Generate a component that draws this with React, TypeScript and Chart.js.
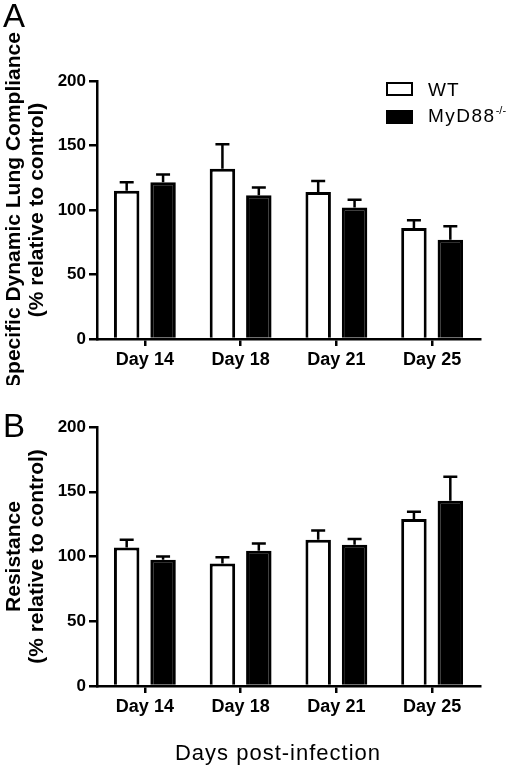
import { useEffect, useRef } from 'react';
import { Chart, registerables } from 'chart.js';
Chart.register(...registerables);

const days = ['Day 14', 'Day 18', 'Day 21', 'Day 25'];

// panel A: specific dynamic lung compliance, mean and SEM
const complianceWT = [115, 132, 114, 86];
const complianceWTsem = [6.5, 19, 8.5, 6];
const complianceKO = [121.5, 111.5, 102, 77];
const complianceKOsem = [6, 6, 6, 10.5];

// panel B: resistance, mean and SEM
const resistanceWT = [107, 94.5, 113, 129];
const resistanceWTsem = [6, 5, 7, 5.5];
const resistanceKO = [97.5, 104.5, 109, 143];
const resistanceKOsem = [2.5, 5.5, 4.5, 18.5];

const yTicks = [0, 50, 100, 150, 200];

const FONT = '"Liberation Sans", Arial, Helvetica, sans-serif';

function makeErrorBars(sem: number[][]) {
  return {
    id: 'errorBars',
    afterDatasetsDraw(chart: any) {
      const { ctx } = chart;
      const y = chart.scales.y;
      ctx.save();
      ctx.strokeStyle = '#000';
      ctx.lineWidth = 2.5;
      chart.data.datasets.forEach((ds: any, i: number) => {
        chart.getDatasetMeta(i).data.forEach((bar: any, j: number) => {
          const base = y.getPixelForValue(ds.data[j]);
          const top = y.getPixelForValue(ds.data[j] + sem[i][j]);
          ctx.beginPath();
          ctx.moveTo(bar.x, base);
          ctx.lineTo(bar.x, top);
          ctx.moveTo(bar.x - 7, top);
          ctx.lineTo(bar.x + 7, top);
          ctx.stroke();
        });
      });
      ctx.restore();
    },
  };
}

type PanelProps = {
  title: string[];
  wt: number[];
  wtSem: number[];
  ko: number[];
  koSem: number[];
  top: number;
  height: number;
  areaTop: number;
  areaBottom: number;
};

function Panel({ title, wt, wtSem, ko, koSem, top, height, areaTop, areaBottom }: PanelProps) {
  const ref = useRef<HTMLCanvasElement>(null);

  useEffect(() => {
    const chart = new Chart(ref.current!, {
      type: 'bar',
      data: {
        labels: days,
        datasets: [
          { label: 'WT', data: wt, backgroundColor: '#fff', borderColor: '#000', borderWidth: 3 },
          { label: 'MyD88-/-', data: ko, backgroundColor: '#000', borderColor: '#000', borderWidth: 3 },
        ],
      },
      plugins: [makeErrorBars([wtSem, koSem])],
      options: {
        animation: false,
        responsive: true,
        maintainAspectRatio: false,
        layout: { padding: { top: areaTop, right: 40, bottom: 0, left: 0 } },
        plugins: { legend: { display: false }, tooltip: { enabled: false } },
        datasets: { bar: { categoryPercentage: 0.76, barPercentage: 0.7 } },
        scales: {
          x: {
            grid: { offset: false, drawOnChartArea: false, tickLength: 7, color: '#000', lineWidth: 2.5 },
            border: { color: '#000', width: 2.5 },
            ticks: { color: '#000', padding: 3, font: { family: FONT, size: 18, weight: 'bold' } },
            afterFit: (s: any) => { s.height = height - areaBottom; },
          },
          y: {
            min: 0,
            max: 200,
            afterBuildTicks: (s: any) => { s.ticks = yTicks.map((v) => ({ value: v })); },
            grid: { drawOnChartArea: false, tickLength: 8, color: '#000', lineWidth: 2.5 },
            border: { color: '#000', width: 2.5 },
            ticks: { color: '#000', padding: 3, font: { family: FONT, size: 17, weight: 'bold' } },
            title: {
              display: true,
              text: title,
              color: '#000',
              padding: { top: 2.5, bottom: 0 },
              font: { family: FONT, size: 21, weight: 'bold', lineHeight: 1.1 },
            },
            afterFit: (s: any) => { s.width = 97; },
          },
        },
      },
    });
    return () => chart.destroy();
  }, []);

  return (
    <div style={{ position: 'absolute', left: 0, top, width: 520, height }}>
      <canvas ref={ref} />
    </div>
  );
}

export default function App() {
  return (
    <div style={{ position: 'absolute', left: 0, top: 0, width: 520, height: 770, background: '#fff', fontFamily: FONT, color: '#000' }}>
      <Panel
        title={['Specific Dynamic Lung Compliance', '(% relative to control)']}
        wt={complianceWT} wtSem={complianceWTsem}
        ko={complianceKO} koSem={complianceKOsem}
        top={0} height={385} areaTop={81} areaBottom={339}
      />
      <Panel
        title={['Resistance', '(% relative to control)']}
        wt={resistanceWT} wtSem={resistanceWTsem}
        ko={resistanceKO} koSem={resistanceKOsem}
        top={385} height={385} areaTop={42} areaBottom={301}
      />

      <div style={{ position: 'absolute', left: 3, top: -1, fontSize: 33, lineHeight: 1 }}>A</div>
      <div style={{ position: 'absolute', left: 3, top: 409, fontSize: 33, lineHeight: 1 }}>B</div>

      <div style={{ position: 'absolute', left: 386, top: 82, width: 27, height: 14, boxSizing: 'border-box', border: '2.5px solid #000', background: '#fff' }} />
      <div style={{ position: 'absolute', left: 428, top: 80, fontSize: 19, lineHeight: 1, letterSpacing: 1 }}>WT</div>
      <div style={{ position: 'absolute', left: 386, top: 110, width: 27, height: 14, background: '#000' }} />
      <div style={{ position: 'absolute', left: 428, top: 105.5, fontSize: 19, lineHeight: 1, letterSpacing: 1.5 }}>
        MyD88<sup style={{ fontSize: 11, letterSpacing: 0, verticalAlign: 'top', position: 'relative', top: -1 }}>-/-</sup>
      </div>

      <div style={{ position: 'absolute', left: 78, top: 742, width: 400, textAlign: 'center', fontSize: 22, lineHeight: 1, letterSpacing: 1 }}>
        Days post-infection
      </div>
    </div>
  );
}
